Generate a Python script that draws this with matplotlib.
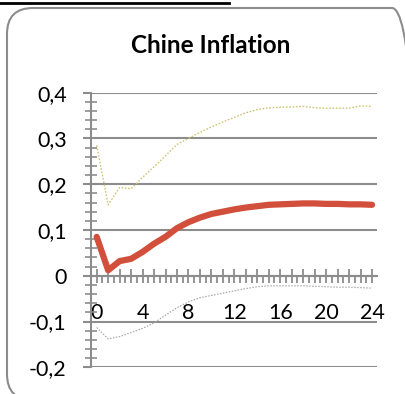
import matplotlib
matplotlib.use("Agg")
import matplotlib.pyplot as plt
from matplotlib.patches import FancyBboxPatch
from matplotlib.lines import Line2D
from matplotlib.ticker import MultipleLocator, FixedLocator

plt.rcParams['font.family'] = ['Lato', 'DejaVu Sans']

# horizon (months) and responses
months = list(range(25))
response = [0.085, 0.012, 0.032, 0.037, 0.052, 0.070, 0.085, 0.104, 0.117, 0.127,
            0.135, 0.140, 0.145, 0.149, 0.152, 0.155, 0.156, 0.157, 0.158, 0.158,
            0.157, 0.157, 0.156, 0.156, 0.155]
upper = [0.285, 0.155, 0.193, 0.190, 0.215, 0.238, 0.262, 0.287, 0.300, 0.313,
         0.325, 0.336, 0.346, 0.356, 0.363, 0.367, 0.368, 0.369, 0.370, 0.367,
         0.366, 0.366, 0.366, 0.371, 0.370]
lower = [-0.113, -0.138, -0.133, -0.124, -0.115, -0.103, -0.086, -0.070, -0.057, -0.048,
         -0.043, -0.038, -0.033, -0.028, -0.024, -0.022, -0.022, -0.022, -0.022, -0.023,
         -0.024, -0.025, -0.025, -0.026, -0.027]

yticks = [-0.2, -0.1, 0.0, 0.1, 0.2, 0.3, 0.4]
ytick_labels = ['-0,2', '-0,1', '0', '0,1', '0,2', '0,3', '0,4']
xtick_labels = [str(m) if m % 4 == 0 else '' for m in months]

title = "Chine Inflation"

grey = '#8c8c8c'

fig = plt.figure(figsize=(4.06, 3.94), dpi=100, facecolor='w')
ax = fig.add_axes([0.224, 0.0678, 0.705, 0.697])

ax.plot(months, upper, color='#cfc47a', lw=1.0, linestyle=(0, (1.2, 1.2)))
ax.plot(months, lower, color='#aaaaaa', lw=0.9, linestyle=(0, (1.2, 1.2)))
ax.plot(months, response, color='#d24f3b', lw=4.5, solid_capstyle='round',
        solid_joinstyle='round')

ax.set_xlim(-0.5, 24.45)
ax.set_ylim(-0.2, 0.4)

# y axis
ax.set_yticks(yticks)
ax.set_yticklabels(ytick_labels)
ax.yaxis.set_minor_locator(MultipleLocator(0.02))
ax.yaxis.grid(True, which='major', color=grey, lw=1.5)
ax.tick_params(axis='y', which='major', direction='out', length=6, width=1.5,
               color=grey, labelsize=15.5, pad=11.5)
ax.tick_params(axis='y', which='minor', direction='inout', length=8, width=1.2,
               color=grey)

# x axis crossing at zero
ax.spines['bottom'].set_position(('data', 0))
ax.set_xticks(months)
ax.set_xticklabels(xtick_labels)
ax.xaxis.set_minor_locator(FixedLocator([m + 0.5 for m in months[:-1]] + [-0.5]))
ax.tick_params(axis='x', which='major', direction='inout', length=9.5, width=1.3,
               color=grey, labelsize=15.5, pad=15)
ax.tick_params(axis='x', which='minor', direction='out', length=5, width=1.3,
               color=grey)

for side in ['top', 'right']:
    ax.spines[side].set_visible(False)
for side in ['left', 'bottom']:
    ax.spines[side].set_color(grey)
    ax.spines[side].set_linewidth(1.5)
ax.set_axisbelow(True)

fig.text(0.518, 0.885, title, ha='center', va='center', fontsize=17.5,
         fontweight='bold')

# rounded chart border (pixel coordinates)
border = FancyBboxPatch((7, -6), 411, 392, boxstyle='round,pad=0,rounding_size=26',
                        transform=None, fill=False, edgecolor=grey, lw=1.5)
fig.patches.append(border)

# underline of the heading cut off above the chart
fig.lines.append(Line2D([0, 229], [391, 391], transform=None, color='k', lw=2))

fig.savefig("out.png", dpi=100, facecolor='w')
